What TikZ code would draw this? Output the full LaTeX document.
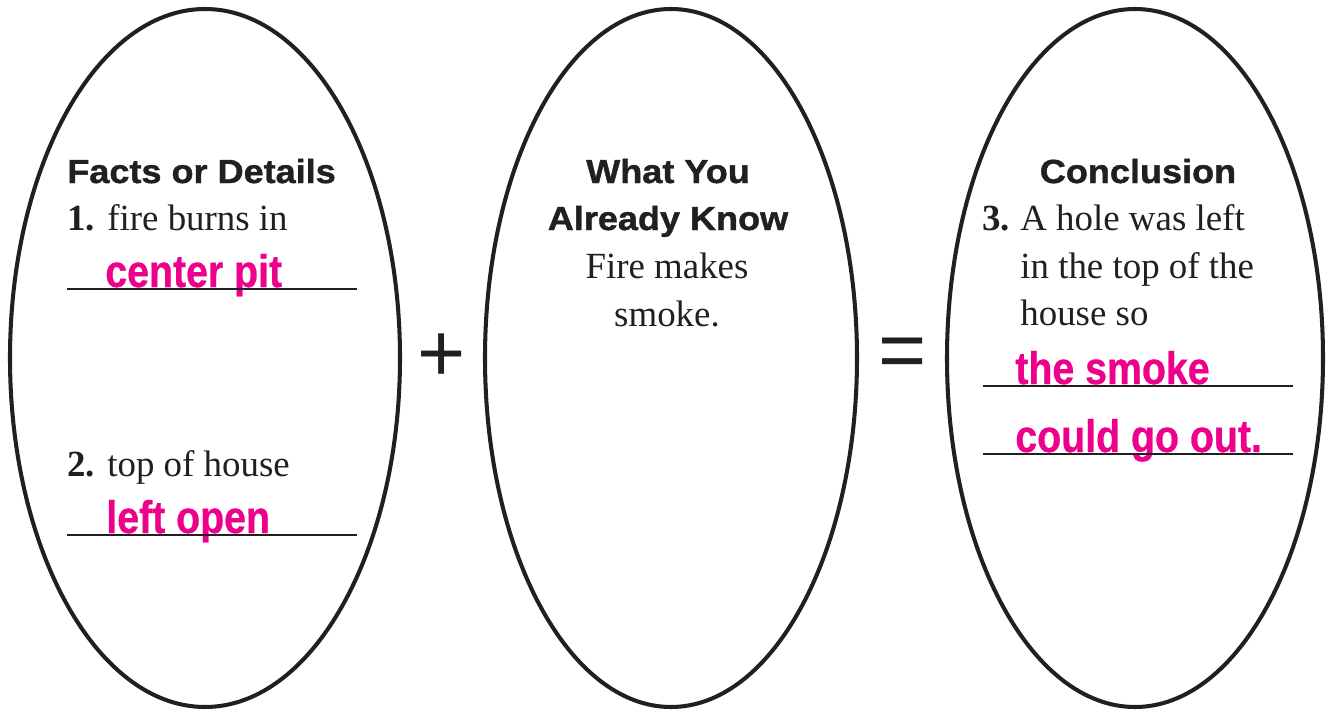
\documentclass[tikz,border=0pt]{standalone}
\usepackage{fontspec}
\setmainfont{Liberation Serif}
\newfontfamily\headfont{Liberation Sans}[FakeStretch=1.08, FakeBold=1.2]
\newfontfamily\answerfont{Liberation Sans}[FakeStretch=0.86, FakeBold=0.6]
\newfontfamily\signfont{Liberation Sans}
\usetikzlibrary{positioning}
\definecolor{ink}{HTML}{231F20}
\definecolor{answer}{HTML}{EC008C}
\tikzset{
bubble/.style={draw=ink, line width=2.3pt}, % the three ovals
heading/.style={inner sep=0pt, text=ink, font=\headfont\bfseries\fontsize{19}{23}\selectfont}, % titles of the ovals
body/.style={inner sep=0pt, text=ink, anchor=base west, font=\fontsize{21}{27}\selectfont}, % printed text
fill in/.style={inner sep=0pt, text=answer, anchor=base west, font=\answerfont\bfseries\fontsize{26}{30}\selectfont}, % written answers
blank/.style={draw=ink, line width=0.6pt}, % answer lines
sign/.style={inner sep=0pt, text=ink, font=\signfont\fontsize{47}{47}\selectfont}, % + and =
}

\begin{document}
\begin{tikzpicture}[x=0.02cm, y=-0.02cm]
  \useasboundingbox (0,0) rectangle (1333,710);

  % Ovals
  \draw[bubble] (205,358) ellipse [x radius=195, y radius=349];
  \draw[bubble] (671,358) ellipse [x radius=186, y radius=349];
  \draw[bubble] (1135,358) ellipse [x radius=188, y radius=349];

  % Facts or Details
  \node[heading, anchor=base west] (facts) at (67,183) {Facts or Details};
  \node[body] (fact1) at (67,230) {\textbf{1.} fire burns in};
  \node[fill in] (ans1) at (105,287) {center pit};
  \draw[blank] (67,289) -- (357,289);
  \node[body] (fact2) at (67,476) {\textbf{2.} top of house};
  \node[fill in] (ans2) at (106,533) {left open};
  \draw[blank] (67,535) -- (357,535);

  % Signs
  \node[sign] (plus) at (441.5,358) {+};
  \node[sign] (equals) at (903,358.5) {=};

  % What You Already Know
  \node[heading, anchor=base] (know1) at (668,183) {What You};
  \node[heading, anchor=base] (know2) at (668,230) {Already Know};
  \node[body, anchor=base] (known1) at (667,278) {Fire makes};
  \node[body, anchor=base] (known2) at (667,326) {smoke.};

  % Conclusion
  \node[heading, anchor=base] (concl) at (1138,183) {Conclusion};
  \node[body] (c1) at (982,230) {\textbf{3.}};
  \node[body] (c2) at (1020,230) {A hole was left};
  \node[body] (c3) at (1020,278) {in the top of the};
  \node[body] (c4) at (1020,325) {house so};
  \node[fill in] (ans3) at (1015,384) {the smoke};
  \draw[blank] (983,386) -- (1293,386);
  \node[fill in] (ans4) at (1015,452) {could go out.};
  \draw[blank] (983,454) -- (1293,454);
\end{tikzpicture}
\end{document}
